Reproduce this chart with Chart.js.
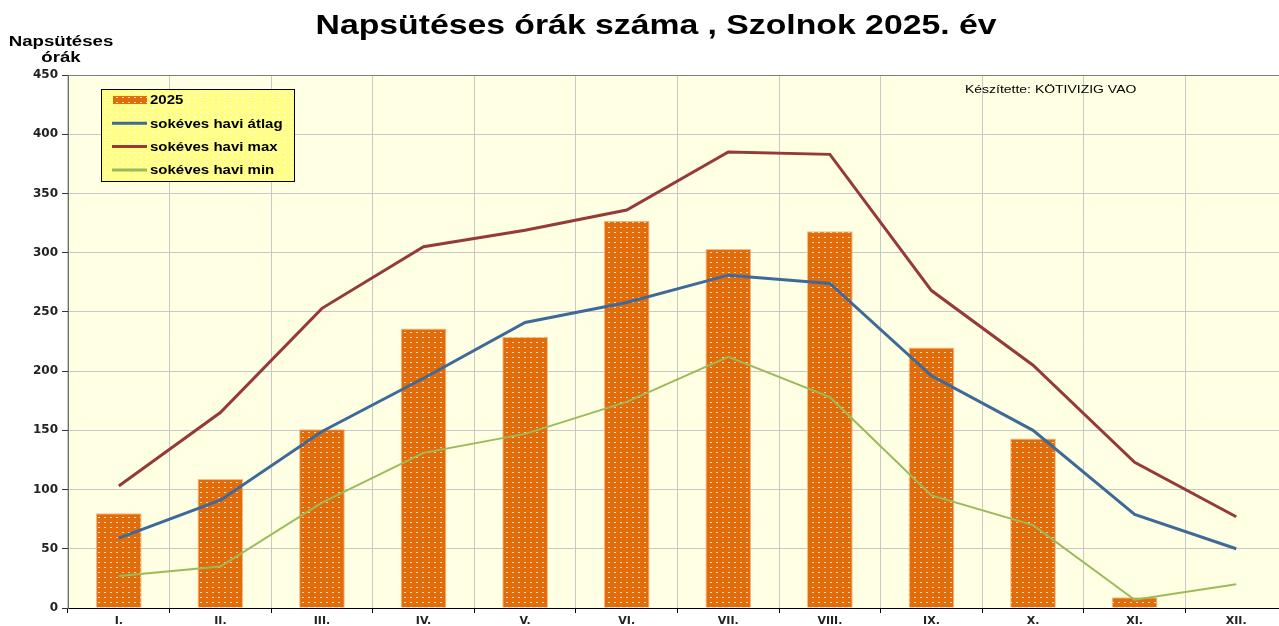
<!DOCTYPE html>
<html>
<head>
<meta charset="utf-8">
<script src="https://cdn.jsdelivr.net/npm/chart.js@4"></script>
<style>
  html, body { margin: 0; padding: 0; background: #fff; overflow: hidden; }
  #wrap { width: 1300px; height: 626px; }
</style>
</head>
<body>
<div id="wrap"><canvas id="myChart" width="1300" height="626"></canvas></div>
<script>
// Chart data
const months = ["I.", "II.", "III.", "IV.", "V.", "VI.", "VII.", "VIII.", "IX.", "X.", "XI.", "XII."];
const hours2025 = [80, 109, 151, 236, 229, 327, 303, 318, 220, 143, 9, null];
const avgHours = [59, 91, 149, 194, 241, 258, 281, 274, 196, 150, 79, 50];
const maxHours = [103, 165, 253, 305, 319, 336, 385, 383, 268, 205, 123, 77];
const minHours = [27, 35, 89, 131, 147, 174, 212, 178, 95, 70, 7, 20];
const yTicks = [0, 50, 100, 150, 200, 250, 300, 350, 400, 450];

const ctx = document.getElementById("myChart");
const FONT = "Arial, 'Liberation Sans', sans-serif";
const TICKFONT = "'DejaVu Sans', Arial, sans-serif";

// dotted fill like the old Excel pattern
function makePattern(bg, dot) {
  const c = document.createElement("canvas");
  c.width = 6;
  c.height = 5;
  const g = c.getContext("2d");
  g.fillStyle = bg;
  g.fillRect(0, 0, 6, 5);
  g.fillStyle = dot;
  g.fillRect(2, 2, 2, 1);
  return g.createPattern(c, "repeat");
}
const barFill = makePattern("#e36c0a", "rgba(255,235,215,0.9)");
const legendFill = makePattern("#ffff88", "#ffffd8");

// the source text is drawn a bit wider than normal Arial
function wideText(c, text, x, y, sx) {
  c.save();
  c.translate(x, y);
  c.scale(sx, 1);
  c.fillText(text, 0, 0);
  c.restore();
}

// title, axis label, note and the boxed legend
const decorPlugin = {
  id: "decor",
  afterDraw(chart) {
    const c = chart.ctx;
    const area = chart.chartArea;
    c.save();
    c.fillStyle = "#000";
    c.textBaseline = "middle";
    c.textAlign = "center";
    c.font = "bold 27px " + FONT;
    wideText(c, "Napsütéses órák száma , Szolnok 2025. év", 656, 27, 1.25);
    c.font = "bold 14px " + FONT;
    wideText(c, "Napsütéses", 61, 42, 1.33);
    wideText(c, "órák", 61, 58, 1.33);
    c.textAlign = "left";
    c.font = "11px " + FONT;
    wideText(c, "Készítette: KÖTIVIZIG VAO", 965, 90, 1.27);

    // top frame line
    c.strokeStyle = "#808080";
    c.lineWidth = 1;
    c.beginPath();
    c.moveTo(area.left, area.top + 0.5);
    c.lineTo(area.right, area.top + 0.5);
    c.stroke();

    // legend box
    const lx = 101, ly = 89, lw = 193, lh = 92;
    c.fillStyle = legendFill;
    c.fillRect(lx, ly, lw, lh);
    c.strokeStyle = "#000";
    c.strokeRect(lx + 0.5, ly + 0.5, lw, lh);
    const rows = [chart.data.datasets[3], chart.data.datasets[0], chart.data.datasets[1], chart.data.datasets[2]];
    c.font = "bold 12px " + FONT;
    rows.forEach((ds, i) => {
      const y = ly + 11 + i * 23.3;
      if (ds.type === "bar") {
        c.fillStyle = barFill;
        c.fillRect(113, y - 4, 34, 8);
      } else {
        c.strokeStyle = ds.borderColor;
        c.lineWidth = 3;
        c.beginPath();
        c.moveTo(112, y);
        c.lineTo(147, y);
        c.stroke();
      }
      c.fillStyle = "#000";
      wideText(c, ds.label, 150, y + 1, 1.25);
    });
    c.restore();
  },
};

new Chart(ctx, {
  data: {
    labels: months,
    datasets: [
      {
        type: "line",
        label: "sokéves havi átlag",
        data: avgHours,
        borderColor: "#3d6a99",
        borderWidth: 3,
        pointRadius: 0,
        tension: 0,
        order: 1,
      },
      {
        type: "line",
        label: "sokéves havi max",
        data: maxHours,
        borderColor: "#953a38",
        borderWidth: 3,
        pointRadius: 0,
        tension: 0,
        order: 2,
      },
      {
        type: "line",
        label: "sokéves havi min",
        data: minHours,
        borderColor: "#9bbb59",
        borderWidth: 2,
        pointRadius: 0,
        tension: 0,
        order: 3,
      },
      {
        type: "bar",
        label: "2025",
        data: hours2025,
        backgroundColor: barFill,
        borderColor: "#f7b98a",
        borderWidth: 1,
        barPercentage: 0.45,
        categoryPercentage: 1,
        order: 4,
      },
    ],
  },
  options: {
    responsive: false,
    animation: false,
    layout: { padding: { top: 75, left: 0, right: 13, bottom: 0 } },
    plugins: {
      legend: { display: false },
      tooltip: { enabled: false },
      title: { display: false },
    },
    scales: {
      x: {
        offset: true,
        grid: {
          offset: true,
          color: "#c8c8c8",
          tickColor: "#000",
          tickLength: 5,
          lineWidth: 1,
        },
        border: { color: "#000", width: 1 },
        ticks: {
          color: "#222",
          font: { family: TICKFONT, size: 11, weight: "bold" },
          padding: 2,
          maxRotation: 0,
        },
        afterFit(scale) {
          scale.height = 18;
        },
      },
      y: {
        min: 0,
        max: 450,
        afterBuildTicks(scale) {
          scale.ticks = yTicks.map((v) => ({ value: v }));
        },
        grid: {
          color: "#c8c8c8",
          tickColor: "#333",
          tickLength: 6,
          lineWidth: 1,
        },
        border: { color: "#6e6e6e", width: 1 },
        ticks: {
          color: "#222",
          font: { family: TICKFONT, size: 12, weight: "bold" },
          padding: 4,
        },
        afterFit(scale) {
          scale.width = 68;
        },
      },
    },
  },
  plugins: [
    {
      id: "plotBg",
      beforeDraw(chart) {
        const a = chart.chartArea;
        chart.ctx.save();
        chart.ctx.fillStyle = "#ffffe3";
        chart.ctx.fillRect(a.left, a.top, a.right - a.left, a.bottom - a.top);
        chart.ctx.restore();
      },
    },
    decorPlugin,
  ],
});
</script>
</body>
</html>
